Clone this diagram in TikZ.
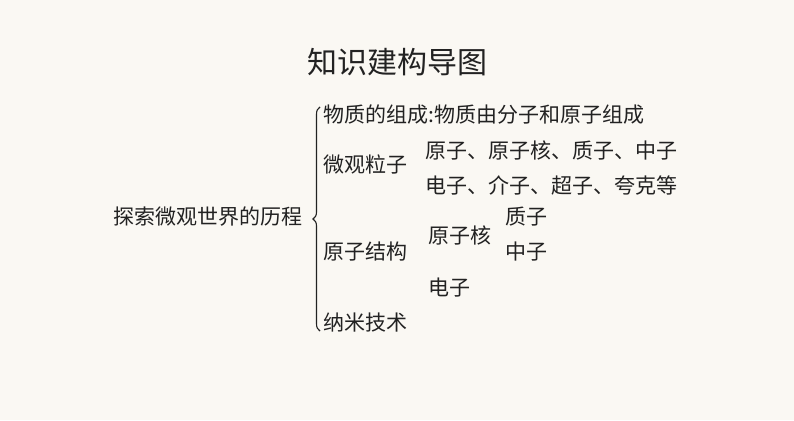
\documentclass[tikz,border=0pt]{standalone}
\usepackage{fontspec}
\newfontfamily\cjk{Noto Sans CJK SC}
\usetikzlibrary{decorations.pathreplacing}
\definecolor{paper}{HTML}{FAF8F3}
\definecolor{ink}{HTML}{222222}

\begin{document}
\begin{tikzpicture}[x=1pt,y=-1pt,
    every node/.style={inner sep=0pt,anchor=west,text=ink,
      font=\cjk\fontsize{21}{21}\selectfont},
    title/.style={anchor=center,font=\cjk\fontsize{30}{30}\selectfont}]
  \fill[paper] (0,0) rectangle (794,420);
  \node[title] (title) at (397,62) {知识建构导图};
  \node (root) at (113,217) {探索微观世界的历程};
  % the brace
  \coordinate (btop) at (320,107);
  \coordinate (bbot) at (320,331);
  \draw[ink,line width=1.1pt,decorate,decoration={brace,amplitude=7pt}] (bbot) -- (btop);
  % first level
  \node (zucheng) at (323,115) {物质的组成:物质由分子和原子组成};
  \node (lizi)    at (323,165) {微观粒子};
  \node (jiegou)  at (323,252) {原子结构};
  \node (nami)    at (323,323) {纳米技术};
  % second level
  \node (lizi1)   at (425,150) {原子、原子核、质子、中子};
  \node (lizi2)   at (425,185) {电子、介子、超子、夸克等};
  \node (he)      at (428,235) {原子核};
  \node (dianzi)  at (428,288) {电子};
  \node (zhizi)   at (505,217) {质子};
  \node (zhongzi) at (505,252) {中子};
\end{tikzpicture}
\end{document}
